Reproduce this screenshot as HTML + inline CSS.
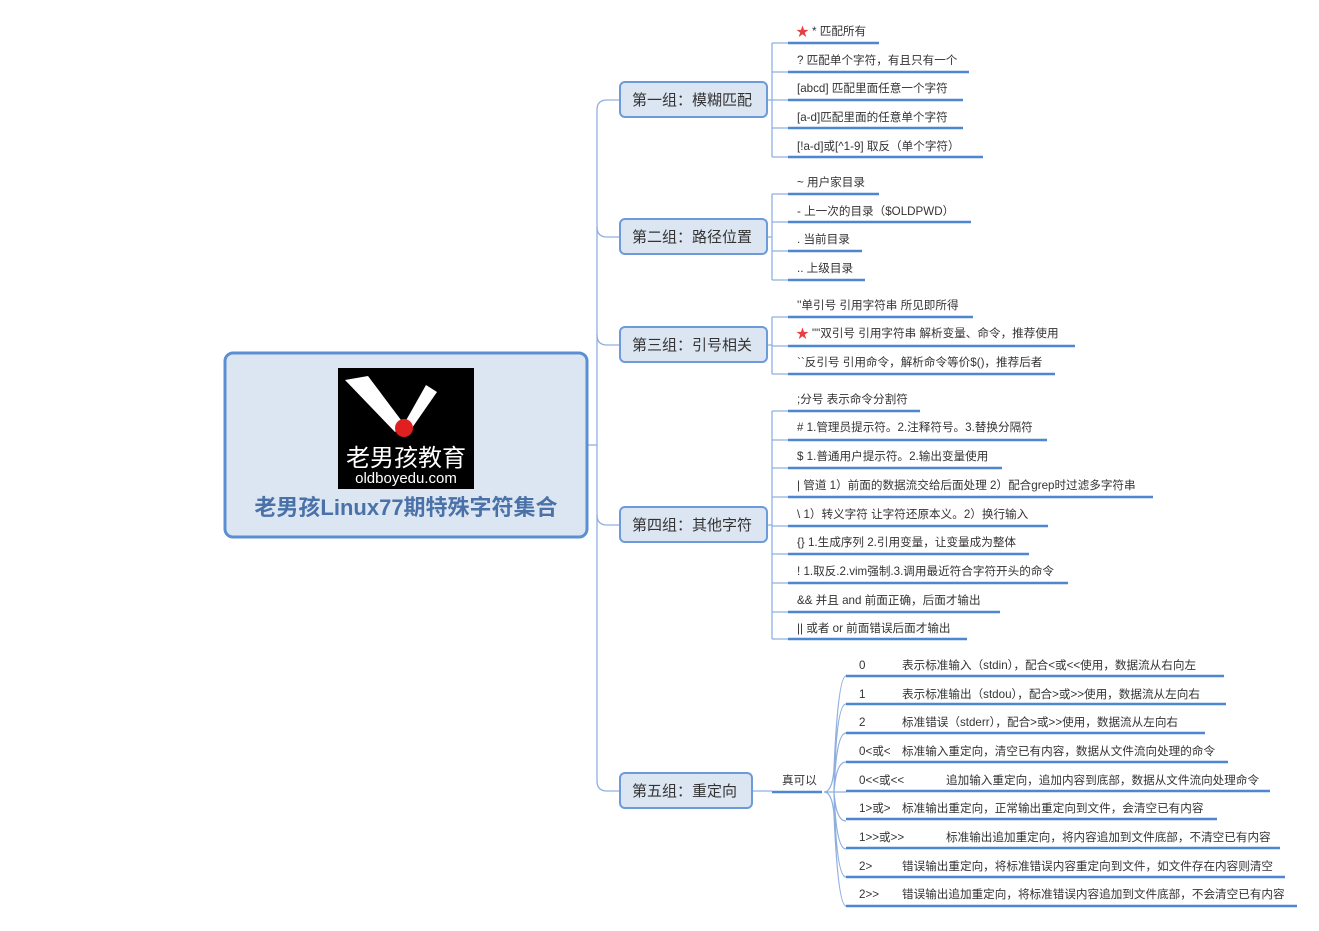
<!DOCTYPE html>
<html><head><meta charset="utf-8"><style>
body{margin:0;background:#fff;width:1319px;height:931px;overflow:hidden}
svg{display:block}
text{font-family:"Liberation Sans","Noto Sans CJK SC",sans-serif;fill:#333;font-size:11.6px}
.g{font-size:15px;fill:#333}
</style></head><body>
<svg width="1319" height="931" viewBox="0 0 1319 931" xmlns="http://www.w3.org/2000/svg">
<g fill="none" stroke="#8fb0de" stroke-width="1.3">
<path d="M588 445 H597"/>
<path d="M620 100 H607 Q597 100 597 110 V781 Q597 791 607 791 H620"/>
<path d="M597 227 Q597 237 607 237 H620"/>
<path d="M597 335 Q597 345 607 345 H620"/>
<path d="M597 515 Q597 525 607 525 H620"/>
<path d="M767 100 H772 M772 43 V157 M772 43 H788 M772 72 H788 M772 100 H788 M772 128 H788 M772 157 H788"/>
<path d="M767 237 H772 M772 194 V280 M772 194 H788 M772 222 H788 M772 251 H788 M772 280 H788"/>
<path d="M767 345 H772 M772 317 V374 M772 317 H788 M772 346 H788 M772 374 H788"/>
<path d="M767 525 H772 M772 411 V639 M772 411 H788 M772 440 H788 M772 468 H788 M772 497 H788 M772 526 H788 M772 554 H788 M772 583 H788 M772 612 H788 M772 639 H788"/>
<path d="M752 791 H772"/>
<path d="M824 792 Q832 792 834 770 Q838 676 846 676 M834 792 Q836 704 846 704 M834 792 Q836 733 846 733 M834 792 Q836 762 846 762 M824 792 H846 M834 792 Q836 821 846 821 M834 792 Q836 849 846 849 M834 792 Q836 877 846 877 M824 792 Q832 792 834 814 Q838 906 846 906"/>
</g>
<g stroke="#4f86d0" stroke-width="2.5">
<path d="M788 43 H879 M788 72 H969 M788 100 H963 M788 128 H963 M788 157 H983"/>
<path d="M788 194 H879 M788 222 H971 M788 251 H862 M788 280 H865"/>
<path d="M788 317 H973 M788 346 H1075 M788 374 H1055"/>
<path d="M788 411 H920 M788 440 H1047 M788 468 H1002 M788 497 H1153 M788 526 H1048 M788 554 H1029 M788 583 H1068 M788 612 H1000 M788 639 H967"/>
<path d="M772 792 H822"/>
<path d="M846 676 H1224 M846 704 H1226 M846 733 H1205 M846 762 H1228 M846 791 H1270 M846 819 H1217 M846 848 H1280 M846 877 H1285 M846 906 H1297"/>
</g>
<rect x="225" y="353" width="362" height="184" rx="8" fill="#dce6f2" stroke="#5b8fd3" stroke-width="3"/>
<rect x="338" y="368" width="136" height="121" fill="#000"/>
<polygon points="345,380 368,376 404,424 395,432" fill="#fff"/>
<polygon points="426,385 437,392 412,428 404,424" fill="#fff"/>
<circle cx="404" cy="428" r="9" fill="#e02020"/>
<text x="406" y="466" text-anchor="middle" style="fill:#fff;font-size:24px">老男孩教育</text>
<text x="406" y="483" text-anchor="middle" style="fill:#fff;font-size:15px">oldboyedu.com</text>
<text x="406" y="515" text-anchor="middle" style="fill:#4a72a8;font-size:22px;font-weight:bold">老男孩Linux77期特殊字符集合</text>
<g fill="#dce6f2" stroke="#6d9ad8" stroke-width="2">
<rect x="620" y="82" width="147" height="35" rx="5"/>
<rect x="620" y="219" width="147" height="35" rx="5"/>
<rect x="620" y="327" width="147" height="35" rx="5"/>
<rect x="620" y="507" width="147" height="35" rx="5"/>
<rect x="620" y="773" width="132" height="35" rx="5"/>
</g>
<text class="g" x="632" y="105">第一组：模糊匹配</text>
<text class="g" x="632" y="242">第二组：路径位置</text>
<text class="g" x="632" y="350">第三组：引号相关</text>
<text class="g" x="632" y="530">第四组：其他字符</text>
<text class="g" x="632" y="796">第五组：重定向</text>
<text x="796" y="36" style="fill:#e84040;font-size:13px">★</text>
<text x="812" y="35">* 匹配所有</text>
<text x="797" y="64">? 匹配单个字符，有且只有一个</text>
<text x="797" y="92">[abcd] 匹配里面任意一个字符</text>
<text x="797" y="121">[a-d]匹配里面的任意单个字符</text>
<text x="797" y="150">[!a-d]或[^1-9] 取反（单个字符）</text>
<text x="797" y="186">~ 用户家目录</text>
<text x="797" y="215">- 上一次的目录（$OLDPWD）</text>
<text x="797" y="243">. 当前目录</text>
<text x="797" y="272">.. 上级目录</text>
<text x="797" y="309">''单引号 引用字符串 所见即所得</text>
<text x="796" y="338" style="fill:#e84040;font-size:13px">★</text>
<text x="812" y="337">""双引号 引用字符串 解析变量、命令，推荐使用</text>
<text x="797" y="366">``反引号 引用命令，解析命令等价$()，推荐后者</text>
<text x="797" y="403">;分号 表示命令分割符</text>
<text x="797" y="431"># 1.管理员提示符。2.注释符号。3.替换分隔符</text>
<text x="797" y="460">$ 1.普通用户提示符。2.输出变量使用</text>
<text x="797" y="489">| 管道 1）前面的数据流交给后面处理 2）配合grep时过滤多字符串</text>
<text x="797" y="518">\ 1）转义字符 让字符还原本义。2）换行输入</text>
<text x="797" y="546">{} 1.生成序列 2.引用变量，让变量成为整体</text>
<text x="797" y="575">! 1.取反.2.vim强制.3.调用最近符合字符开头的命令</text>
<text x="797" y="604">&amp;&amp; 并且 and 前面正确，后面才输出</text>
<text x="797" y="632">|| 或者 or 前面错误后面才输出</text>
<text x="782" y="784">真可以</text>
<text x="859" y="669">0</text><text x="902" y="669">表示标准输入（stdin），配合&lt;或&lt;&lt;使用，数据流从右向左</text>
<text x="859" y="698">1</text><text x="902" y="698">表示标准输出（stdou），配合&gt;或&gt;&gt;使用，数据流从左向右</text>
<text x="859" y="726">2</text><text x="902" y="726">标准错误（stderr），配合&gt;或&gt;&gt;使用，数据流从左向右</text>
<text x="859" y="755">0&lt;或&lt;</text><text x="902" y="755">标准输入重定向，清空已有内容，数据从文件流向处理的命令</text>
<text x="859" y="784">0&lt;&lt;或&lt;&lt;</text><text x="946" y="784">追加输入重定向，追加内容到底部，数据从文件流向处理命令</text>
<text x="859" y="812">1&gt;或&gt;</text><text x="902" y="812">标准输出重定向，正常输出重定向到文件，会清空已有内容</text>
<text x="859" y="841">1&gt;&gt;或&gt;&gt;</text><text x="946" y="841">标准输出追加重定向，将内容追加到文件底部，不清空已有内容</text>
<text x="859" y="870">2&gt;</text><text x="902" y="870">错误输出重定向，将标准错误内容重定向到文件，如文件存在内容则清空</text>
<text x="859" y="898">2&gt;&gt;</text><text x="902" y="898">错误输出追加重定向，将标准错误内容追加到文件底部，不会清空已有内容</text>
</svg>
</body></html>
